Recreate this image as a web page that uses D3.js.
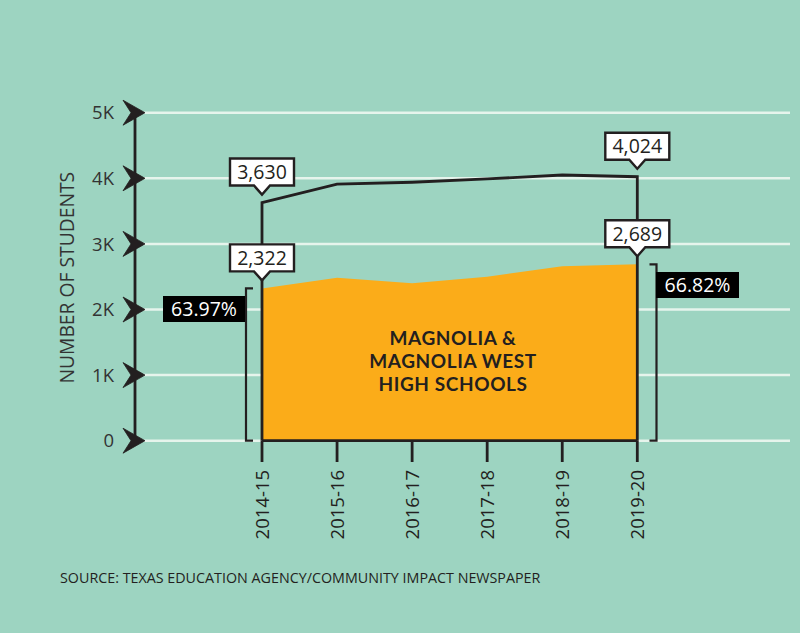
<!DOCTYPE html>
<html>
<head>
<meta charset="utf-8">
<script src="https://cdn.jsdelivr.net/npm/d3@7"></script>
<style>
  html, body { margin: 0; padding: 0; background: #9dd4c1; }
  svg { display: block; font-family: "Open Sans", sans-serif; }
</style>
</head>
<body>
<div id="main"></div>
<script>
// enrollment by school year
const years = ['2014-15', '2015-16', '2016-17', '2017-18', '2018-19', '2019-20'];
const districtTotal = [3630, 3910, 3940, 3990, 4050, 4024];
const magnoliaSchools = [2322, 2485, 2400, 2500, 2660, 2689];
const yTicks = [0, 1000, 2000, 3000, 4000, 5000];
const yTickLabels = ['0', '1K', '2K', '3K', '4K', '5K'];
const shareLabels = ['63.97%', '66.82%'];

const
  svgWidth = 800,
  svgHeight = 633,
  ink = '#231f20',
  orange = '#fbac19';

let svg = d3.select('div#main')
  .append('svg')
  .attr('width', svgWidth)
  .attr('height', svgHeight);

svg.append('rect')
  .attr('width', svgWidth)
  .attr('height', svgHeight)
  .attr('fill', '#9dd4c1');

const x = d3.scalePoint().domain(years).range([262, 637.3]);
const y = d3.scaleLinear().domain([0, 5000]).range([440.7, 112.7]);

// grid lines
svg.selectAll('line.grid')
  .data(yTicks)
  .enter()
  .append('line')
    .attr('class', 'grid')
    .attr('x1', 143)
    .attr('x2', 790)
    .attr('y1', d => y(d))
    .attr('y2', d => y(d))
    .attr('stroke', '#e6f4ec')
    .attr('stroke-width', 2.5);

// y axis line + arrow ticks
svg.append('line')
  .attr('x1', 135).attr('x2', 135)
  .attr('y1', y(5000)).attr('y2', y(0) + 4)
  .attr('stroke', ink)
  .attr('stroke-width', 2.8);

svg.selectAll('path.arrow')
  .data(yTicks)
  .enter()
  .append('path')
    .attr('class', 'arrow')
    .attr('transform', d => `translate(0,${y(d)})`)
    .attr('d', 'M123,-12.5 L145,0 L123,12.5 L131,0 Z')
    .attr('fill', ink)
    .attr('stroke', ink)
    .attr('stroke-width', 0.8)
    .attr('stroke-linejoin', 'round');

svg.selectAll('text.ytick')
  .data(yTicks)
  .enter()
  .append('text')
    .attr('class', 'ytick')
    .attr('x', 114)
    .attr('y', d => y(d))
    .attr('dy', '0.36em')
    .attr('text-anchor', 'end')
    .attr('font-size', 18.5)
    .attr('fill', '#333')
    .text((d, i) => yTickLabels[i]);

svg.append('text')
  .attr('transform', `translate(73.5,${y(2500) + 1}) rotate(-90)`)
  .attr('text-anchor', 'middle')
  .attr('font-size', 19.3)
  .attr('fill', '#333')
  .text('NUMBER OF STUDENTS');

// orange area
const area = d3.area()
  .x((d, i) => x(years[i]))
  .y0(y(0))
  .y1(d => y(d));

svg.append('path')
  .datum(magnoliaSchools)
  .attr('d', area)
  .attr('fill', orange);

// total line with drops at both ends
const first = years[0], last = years[years.length - 1];
const line = d3.line()
  .x(d => d[0])
  .y(d => d[1]);
const linePts = [[x(first), y(0)]]
  .concat(districtTotal.map((d, i) => [x(years[i]), y(d)]))
  .concat([[x(last), y(0)]]);

svg.append('path')
  .datum(linePts)
  .attr('d', line)
  .attr('fill', 'none')
  .attr('stroke', ink)
  .attr('stroke-width', 2.8)
  .attr('stroke-linejoin', 'miter');

// x axis baseline + ticks
svg.append('line')
  .attr('x1', x(first)).attr('x2', x(last))
  .attr('y1', y(0)).attr('y2', y(0))
  .attr('stroke', ink)
  .attr('stroke-width', 2.8);

svg.selectAll('line.xtick')
  .data(years)
  .enter()
  .append('line')
    .attr('class', 'xtick')
    .attr('x1', d => x(d)).attr('x2', d => x(d))
    .attr('y1', y(0)).attr('y2', 462)
    .attr('stroke', ink)
    .attr('stroke-width', 2.8);

svg.selectAll('text.xtick')
  .data(years)
  .enter()
  .append('text')
    .attr('class', 'xtick')
    .attr('transform', d => `translate(${x(d)},470) rotate(-90)`)
    .attr('dy', '0.36em')
    .attr('text-anchor', 'end')
    .attr('font-size', 18.5)
    .attr('fill', ink)
    .text(d => d);

// callouts on first and last values
const fmt = d3.format(',');
const callouts = [];
[0, years.length - 1].forEach(i => {
  callouts.push({ year: years[i], value: districtTotal[i] });
  callouts.push({ year: years[i], value: magnoliaSchools[i] });
});

const boxW = 64, boxH = 27, tipH = 9, tipW = 8, gap = 8;
const co = svg.selectAll('g.callout')
  .data(callouts)
  .enter()
  .append('g')
    .attr('class', 'callout')
    .attr('transform', d => `translate(${x(d.year)},${y(d.value) - gap})`);

co.append('path')
  .attr('d', `M${-boxW / 2},${-tipH - boxH} H${boxW / 2} V${-tipH} H${tipW} L0,0 L${-tipW},${-tipH} H${-boxW / 2} Z`)
  .attr('fill', '#fff')
  .attr('stroke', ink)
  .attr('stroke-width', 2.4);

co.append('text')
  .attr('y', -tipH - boxH / 2)
  .attr('dy', '0.36em')
  .attr('text-anchor', 'middle')
  .attr('font-size', 19.5)
  .attr('fill', ink)
  .text(d => fmt(d.value));

// brackets showing share of total
const brackets = [
  { xv: 246, dir: 1, top: magnoliaSchools[0] },
  { xv: 656.5, dir: -1, top: magnoliaSchools[magnoliaSchools.length - 1] }
];
svg.selectAll('path.bracket')
  .data(brackets)
  .enter()
  .append('path')
    .attr('class', 'bracket')
    .attr('d', d => `M${d.xv + d.dir * 7},${y(d.top)} H${d.xv} V${y(0)} H${d.xv + d.dir * 7}`)
    .attr('fill', 'none')
    .attr('stroke', ink)
    .attr('stroke-width', 2.2);

const shareBoxes = [
  { label: shareLabels[0], x0: 163, x1: 245, yc: 309 },
  { label: shareLabels[1], x0: 656, x1: 739, yc: 285 }
];
const sb = svg.selectAll('g.share')
  .data(shareBoxes)
  .enter()
  .append('g')
    .attr('class', 'share');

sb.append('rect')
  .attr('x', d => d.x0)
  .attr('y', d => d.yc - 13)
  .attr('width', d => d.x1 - d.x0)
  .attr('height', 26)
  .attr('fill', '#000');

sb.append('text')
  .attr('x', d => (d.x0 + d.x1) / 2)
  .attr('y', d => d.yc)
  .attr('dy', '0.36em')
  .attr('text-anchor', 'middle')
  .attr('font-size', 19.5)
  .attr('fill', '#fff')
  .text(d => d.label);

// area label
svg.append('text')
  .attr('x', 453)
  .attr('text-anchor', 'middle')
  .attr('font-family', 'Lato, sans-serif')
  .attr('font-size', 19)
  .attr('font-weight', 'bold')
  .attr('letter-spacing', 0.6)
  .attr('fill', ink)
  .selectAll('tspan')
  .data(['MAGNOLIA &', 'MAGNOLIA WEST', 'HIGH SCHOOLS'])
  .enter()
  .append('tspan')
    .attr('x', 453)
    .attr('y', (d, i) => 345 + i * 23)
    .text(d => d);

// source
svg.append('text')
  .attr('x', 60)
  .attr('y', 583)
  .attr('font-size', 14.3)
  .attr('fill', ink)
  .text('SOURCE: TEXAS EDUCATION AGENCY/COMMUNITY IMPACT NEWSPAPER');
</script>
</body>
</html>
